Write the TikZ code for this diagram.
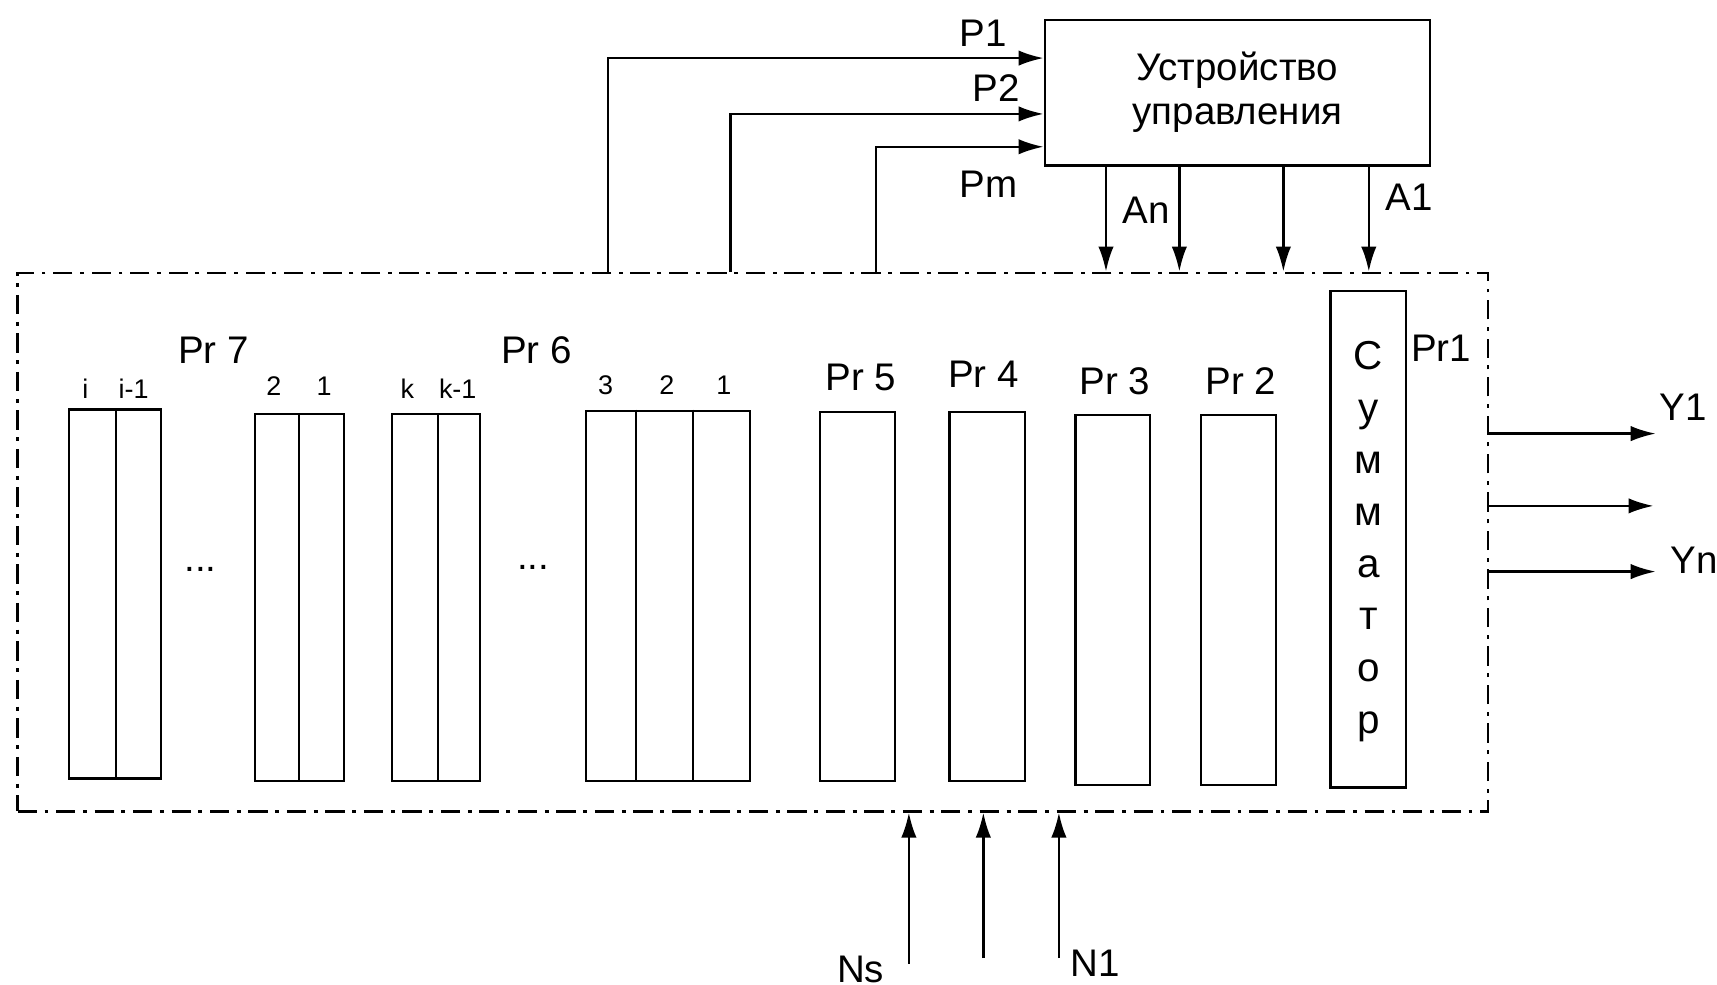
\documentclass[tikz,border=0pt]{standalone}
\usepackage{fontspec}
\setmainfont{Liberation Sans}
\usetikzlibrary{arrows.meta, positioning}
\tikzstyle{reg} = [rectangle, 
draw=black, 
line width=0.6pt, 
inner sep=0pt, 
anchor=north west]
\tikzstyle{frame} = [rectangle, 
draw=black, 
line width=0.6pt, 
inner sep=0pt, 
anchor=north west, 
dash pattern=on 5pt off 2pt on 1pt off 2pt]
\tikzstyle{arrow} = [line width=0.6pt,-{Latex[length=6.5pt, width=4pt]},draw=black]
\tikzstyle{lbl} = [inner sep=0pt, font=\fontsize{10}{11.5}\selectfont]
\tikzstyle{num} = [inner sep=0pt, font=\fontsize{7}{8}\selectfont]

\begin{document}
\begin{tikzpicture}
        \useasboundingbox (0,0) rectangle (15.68,-8.99);

        % Nodos
        \node (ctrl) [reg, minimum width=3.52cm, minimum height=1.33cm, align=center, font=\fontsize{10}{11.5}\selectfont] at (9.53,-0.17) {Устройство\\управления};
        \node (frame) [frame, minimum width=13.43cm, minimum height=4.92cm] at (0.15,-2.48) {};

        \node (pr7) [reg, minimum width=0.84cm, minimum height=3.37cm] at (0.62,-3.73) {};
        \node (r21) [reg, minimum width=0.81cm, minimum height=3.35cm] at (2.32,-3.77) {};
        \node (rk) [reg, minimum width=0.80cm, minimum height=3.35cm] at (3.57,-3.77) {};
        \node (pr6) [reg, minimum width=1.50cm, minimum height=3.38cm] at (5.34,-3.74) {};
        \node (pr5) [reg, minimum width=0.68cm, minimum height=3.37cm] at (7.48,-3.75) {};
        \node (pr4) [reg, minimum width=0.69cm, minimum height=3.37cm] at (8.66,-3.75) {};
        \node (pr3) [reg, minimum width=0.68cm, minimum height=3.38cm] at (9.81,-3.78) {};
        \node (pr2) [reg, minimum width=0.68cm, minimum height=3.38cm] at (10.96,-3.78) {};
        \node (sum) [reg, minimum width=0.69cm, minimum height=4.53cm] at (12.14,-2.65) {};

        % Перегородки
        \draw [line width=0.6pt] (1.06,0 |- pr7.north) -- (1.06,0 |- pr7.south);
        \draw [line width=0.6pt] (2.73,0 |- r21.north) -- (2.73,0 |- r21.south);
        \draw [line width=0.6pt] (4.00,0 |- rk.north) -- (4.00,0 |- rk.south);
        \draw [line width=0.6pt] (5.81,0 |- pr6.north) -- (5.81,0 |- pr6.south);
        \draw [line width=0.6pt] (6.33,0 |- pr6.north) -- (6.33,0 |- pr6.south);

        % Подписи
        \node (lpr7) [lbl] at (1.95,-3.20) {Pr 7};
        \node (lpr6) [lbl] at (4.90,-3.20) {Pr 6};
        \node (lpr5) [lbl] at (7.86,-3.45) {Pr 5};
        \node (lpr4) [lbl] at (8.98,-3.42) {Pr 4};
        \node (lpr3) [lbl] at (10.18,-3.48) {Pr 3};
        \node (lpr2) [lbl] at (11.33,-3.48) {Pr 2};
        \node (lpr1) [lbl] at (13.16,-3.18) {Pr1};
        \node (ni) [num] at (0.78,-3.55) {i};
        \node (ni1) [num] at (1.22,-3.55) {i-1};
        \node (n2a) [num] at (2.50,-3.53) {2};
        \node (n1a) [num] at (2.96,-3.53) {1};
        \node (nk) [num] at (3.72,-3.55) {k};
        \node (nk1) [num] at (4.18,-3.55) {k-1};
        \node (n3b) [num] at (5.53,-3.52) {3};
        \node (n2b) [num] at (6.09,-3.52) {2};
        \node (n1b) [num] at (6.61,-3.52) {1};
        \node (dots1) [lbl] at (1.83,-5.20) {...};
        \node (dots2) [lbl] at (4.87,-5.18) {...};
        \node (lsum) [lbl, align=center, font=\fontsize{10.5}{13.5}\selectfont] at ([yshift=-0.02cm]sum.center) {С\\у\\м\\м\\а\\т\\о\\р};

        \node (lp1) [lbl] at (8.98,-0.30) {P1};
        \node (lp2) [lbl] at (9.10,-0.80) {P2};
        \node (lpm) [lbl] at (9.03,-1.68) {Pm};
        \node (lan) [lbl] at (10.47,-1.92) {An};
        \node (la1) [lbl] at (12.87,-1.80) {A1};
        \node (ly1) [lbl] at (15.37,-3.72) {Y1};
        \node (lyn) [lbl] at (15.47,-5.12) {Yn};
        \node (lns) [lbl] at (7.86,-8.85) {Ns};
        \node (ln1) [lbl] at (10.00,-8.80) {N1};

        % Точки
        \coordinate (p1s) at (5.55,-2.48);
        \coordinate (p2s) at (6.67,-2.48);
        \coordinate (pms) at (8.00,-2.48);
        \coordinate (an) at (10.10,0);
        \coordinate (a3) at (10.77,0);
        \coordinate (a2) at (11.72,0);
        \coordinate (a1) at (12.50,0);
        \coordinate (y1) at (15.12,-3.96);
        \coordinate (y2) at (15.10,-4.62);
        \coordinate (yn) at (15.12,-5.22);
        \coordinate (ns) at (8.30,-8.80);
        \coordinate (n2) at (8.98,-8.75);
        \coordinate (n1) at (9.67,-8.75);

        % Соединения
        \draw [arrow] (p1s) |- ([yshift=0.315cm]ctrl.west);
        \draw [arrow] (p2s) |- ([yshift=-0.195cm]ctrl.west);
        \draw [arrow] (pms) |- ([yshift=-0.495cm]ctrl.west);
        \draw [arrow] (ctrl.south -| an) -- (frame.north -| an);
        \draw [arrow] (ctrl.south -| a3) -- (frame.north -| a3);
        \draw [arrow] (ctrl.south -| a2) -- (frame.north -| a2);
        \draw [arrow] (ctrl.south -| a1) -- (frame.north -| a1);
        \draw [arrow] (frame.east |- y1) -- (y1);
        \draw [arrow] (frame.east |- y2) -- (y2);
        \draw [arrow] (frame.east |- yn) -- (yn);
        \draw [arrow] (ns) -- (frame.south -| ns);
        \draw [arrow] (n2) -- (frame.south -| n2);
        \draw [arrow] (n1) -- (frame.south -| n1);

    \end{tikzpicture}
\end{document}
